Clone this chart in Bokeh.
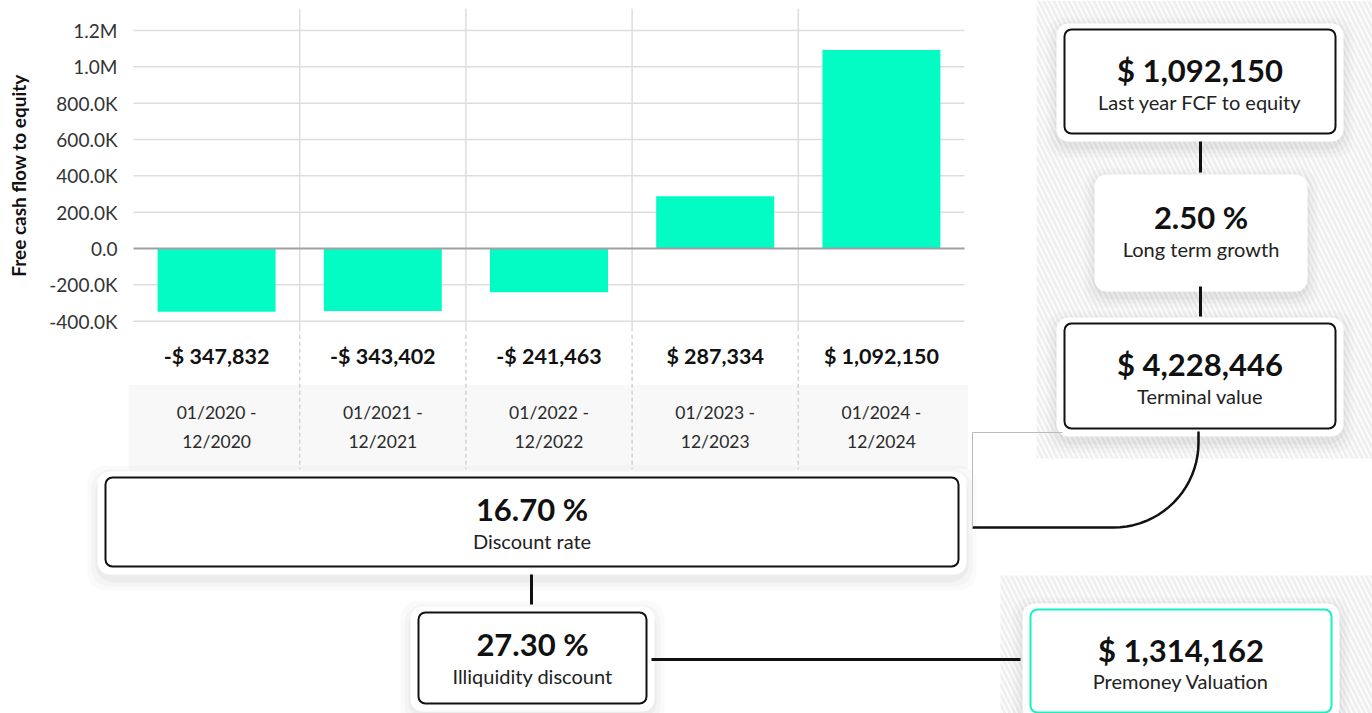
import math
from bokeh.plotting import figure
from bokeh.models import Range1d, LinearAxis, FixedTicker, CustomJSTickFormatter, ColumnDataSource
from bokeh.core.properties import value
from bokeh.embed import file_html
from bokeh.resources import INLINE

# ---------------- data ----------------
periods_start = ["01/2020 -", "01/2021 -", "01/2022 -", "01/2023 -", "01/2024 -"]
periods_end = ["12/2020", "12/2021", "12/2022", "12/2023", "12/2024"]
fcf = [-347832, -343402, -241463, 287334, 1092150]
fcf_labels = ["-$ 347,832", "-$ 343,402", "-$ 241,463", "$ 287,334", "$ 1,092,150"]
y_ticks = [-400000, -200000, 0, 200000, 400000, 600000, 800000, 1000000, 1200000]
y_title = "Free cash flow to equity"

box_values = ["$ 1,092,150", "2.50 %", "$ 4,228,446", "16.70 %", "27.30 %", "$ 1,314,162"]
box_labels = ["Last year FCF to equity", "Long term growth", "Terminal value",
              "Discount rate", "Illiquidity discount", "Premoney Valuation"]

# ---------------- layout ----------------
W, H = 1372, 713
FONT = value("Lato")
BAR = "#03FCC3"

p = figure(width=W, height=H, x_range=Range1d(0, W), y_range=Range1d(H, 0),
           output_backend="svg", toolbar_location=None, min_border=0,
           x_axis_location=None, y_axis_location=None)
p.grid.visible = False
p.outline_line_color = None
p.background_fill_color = "white"

# chart scale (screen px)
Y0, Y12 = 248.0, 30.0          # pixel of 0 and of 1.2M
k = (Y0 - Y12) / 1.2e6
X0, X1 = 133.0, 964.0
n = len(fcf)
bw = (X1 - X0) / n
p.extra_y_ranges = {"by": Range1d((Y0 - H) / k, Y0 / k)}
p.extra_x_ranges = {"bx": Range1d(-X0 / bw - 0.5, (W - X0) / bw - 0.5)}
idx = list(range(n))

# ---------------- background hatch areas ----------------
p.quad(left=[1036, 1000], right=[1372, 1372], top=[0, 575], bottom=[458, 713],
       fill_color="white", line_color=None, hatch_pattern="left_diagonal_line",
       hatch_color="#e8e8e8", hatch_alpha=0.7, hatch_scale=10, hatch_weight=3)

# ---------------- grid ----------------
gy = [t for t in y_ticks if t != 0]
p.segment(x0=[-0.5] * len(gy), x1=[n - 0.5] * len(gy), y0=gy, y1=gy,
          x_range_name="bx", y_range_name="by", line_color="#dddddd", line_width=1.5)
bounds = [i + 0.5 for i in idx[:-1]]
p.segment(x0=bounds, x1=bounds, y0=[1.32e6] * len(bounds), y1=[-455000] * len(bounds),
          x_range_name="bx", y_range_name="by", line_color="#dddddd", line_width=1.5)

# table background
p.quad(left=[-0.53], right=[n - 0.48], top=[-751000], bottom=[-1215000],
       x_range_name="bx", y_range_name="by", fill_color="#f8f8f8", line_color=None)
p.segment(x0=bounds, x1=bounds, y0=[-475000] * len(bounds), y1=[-1215000] * len(bounds),
          x_range_name="bx", y_range_name="by", line_color="#d2d2d2", line_width=1.5,
          line_dash="4 3")

# bars
src = ColumnDataSource(dict(x=idx, top=fcf, lab=fcf_labels, p1=periods_start, p2=periods_end))
p.vbar(x="x", top="top", bottom=0, width=0.71, source=src, x_range_name="bx",
       y_range_name="by", fill_color=BAR, line_color=None)
p.segment(x0=[-0.5], x1=[n - 0.5], y0=[0], y1=[0], x_range_name="bx", y_range_name="by",
          line_color="#a0a0a0", line_width=2)

# y axis (inside frame)
yax = LinearAxis(y_range_name="by", ticker=FixedTicker(ticks=y_ticks),
                 formatter=CustomJSTickFormatter(code="""
                     const a = Math.abs(tick);
                     if (a >= 1e6) return (tick/1e6).toFixed(1) + 'M';
                     if (a >= 1e3) return (tick/1e3).toFixed(1) + 'K';
                     return tick.toFixed(1);"""),
                 fixed_location=129)
yax.axis_line_color = None
yax.major_tick_line_color = None
yax.minor_tick_line_color = None
yax.major_label_standoff = 6
yax.major_label_text_font = "Lato"
yax.major_label_text_font_size = "19px"
yax.major_label_text_color = "#333333"
p.add_layout(yax, "left")

p.text(x=[18], y=[175], text=[y_title], angle=math.pi / 2, text_font=FONT,
       text_font_size="19px", text_font_style="bold", text_color="#111111",
       text_align="center", text_baseline="middle")

# value labels and period labels
p.text(x="x", y=-590000, text="lab", source=src, x_range_name="bx", y_range_name="by",
       text_font=FONT, text_font_size="21.5px", text_font_style="bold", text_color="#111111",
       text_align="center", text_baseline="middle")
p.text(x="x", y=-905000, text="p1", source=src, x_range_name="bx", y_range_name="by",
       text_font=FONT, text_font_size="17.5px", text_color="#2a2a2a",
       text_align="center", text_baseline="middle")
p.text(x="x", y=-1065000, text="p2", source=src, x_range_name="bx", y_range_name="by",
       text_font=FONT, text_font_size="17.5px", text_color="#2a2a2a",
       text_align="center", text_baseline="middle")

# ---------------- boxes ----------------
# (left, right, top, bottom) in screen px
boxes = [(1064, 1335, 29, 133), (1102, 1299, 180, 283), (1064, 1335, 323, 428),
         (105, 958, 477, 566), (418, 646, 612, 703), (1030, 1331, 609, 712)]
borders = ["#111111", None, "#111111", "#111111", "#111111", "#19f2c0"]

# soft shadows
for s, a in [(18, 0.02), (14, 0.025), (10, 0.03)]:
    p.quad(left=[b[0] - s for b in boxes], right=[b[1] + s for b in boxes],
           top=[b[2] - s + 6 for b in boxes], bottom=[b[3] + s + 6 for b in boxes],
           fill_color="#000000", fill_alpha=a, line_color=None, border_radius=18)
# white halo cards
p.quad(left=[b[0] - 8 for b in boxes], right=[b[1] + 8 for b in boxes],
       top=[b[2] - 6 for b in boxes], bottom=[b[3] + 8 for b in boxes],
       fill_color="white", line_color=None, border_radius=12)

# connectors
p.line(x=[1200, 1200], y=[141, 172], line_color="#111111", line_width=3)
p.line(x=[1200, 1200], y=[286, 316], line_color="#111111", line_width=3)
p.line(x=[531, 531], y=[574, 604], line_color="#111111", line_width=3)
p.line(x=[651, 1020], y=[659, 659], line_color="#111111", line_width=3)
# curved connector from terminal value to discount rate
r = 85
cx, cy = 1113, 442
arc_x = [cx + r * math.cos(t * math.pi / 40) for t in range(0, 21)]
arc_y = [cy + r * math.sin(t * math.pi / 40) for t in range(0, 21)]
p.line(x=[1198] + arc_x + [972], y=[431] + arc_y + [527], line_color="#111111", line_width=2.5)
p.line(x=[1062, 972, 972], y=[432, 432, 527], line_color="#bbbbbb", line_width=1)

# boxes themselves
for b, c in zip(boxes, borders):
    p.quad(left=[b[0]], right=[b[1]], top=[b[2]], bottom=[b[3]], fill_color="white",
           line_color=c, line_width=2, border_radius=7 if c else 12)

val_y = [69, 216, 363, 508, 643, 649]
lab_y = [101, 248, 395, 540, 675, 680]
cxs = [(b[0] + b[1]) / 2 for b in boxes]
p.text(x=cxs, y=val_y, text=box_values, text_font=FONT, text_font_size="31px",
       text_font_style="bold", text_color="#111111", text_align="center",
       text_baseline="middle")
p.text(x=cxs, y=lab_y, text=box_labels, text_font=FONT, text_font_size="20px",
       text_color="#222222", text_align="center", text_baseline="middle")

open("out.html", "w").write(file_html(p, INLINE))
